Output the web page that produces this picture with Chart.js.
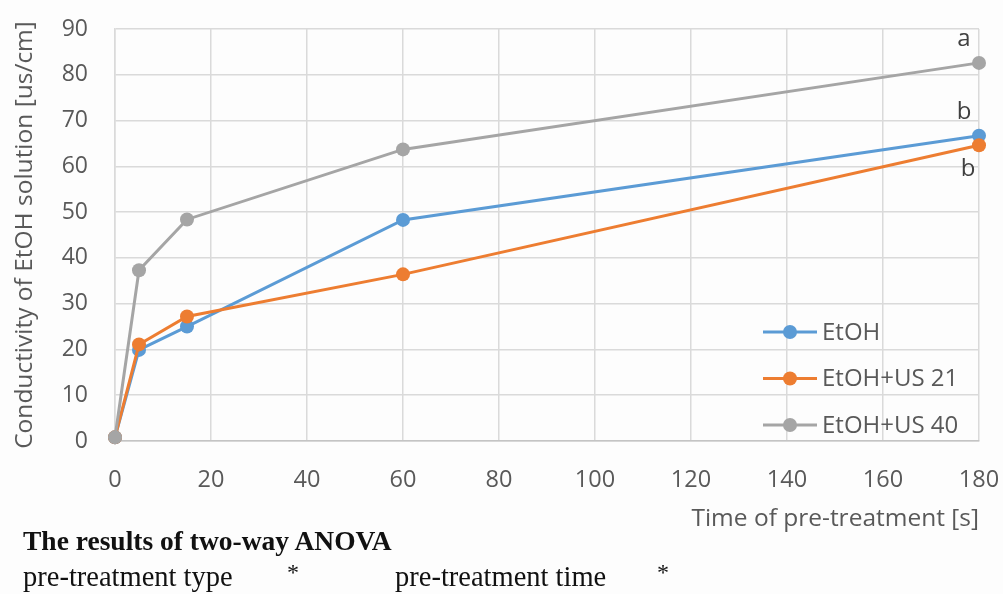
<!DOCTYPE html>
<html>
<head>
<meta charset="utf-8">
<script src="https://cdn.jsdelivr.net/npm/chart.js@4/dist/chart.umd.min.js"></script>
<style>
    html, body { margin: 0; padding: 0; background: #fdfdfd; }
    #wrap { position: relative; width: 1003px; height: 594px; }
    .anova { position: absolute; left: 23px; font-family: "Liberation Serif", serif; font-size: 28.5px; color: #111; white-space: nowrap; line-height: 1; }
</style>
</head>
<body>
<div id="wrap">
    <canvas id="chart" width="1003" height="594"></canvas>
    <div class="anova" style="top: 527px; font-size: 27.5px; font-weight: bold;">The results of two-way ANOVA</div>
    <div class="anova" style="top: 563px;">pre-treatment type</div>
    <div class="anova" style="top: 560px; left: 287px; font-size: 24px;">*</div>
    <div class="anova" style="top: 563px; left: 395px;">pre-treatment time</div>
    <div class="anova" style="top: 560px; left: 657px; font-size: 24px;">*</div>
</div>
<script>
// time of pre-treatment [s]
const times = [0, 5, 15, 60, 180];

// conductivity [us/cm]
const etoh   = [0.8, 19.9, 25.0, 48.3, 66.7];
const etoh21 = [0.8, 21.1, 27.2, 36.4, 64.6];
const etoh40 = [0.8, 37.3, 48.4, 63.7, 82.6];

const seriesNames  = ["EtOH", "EtOH+US 21", "EtOH+US 40"];
const seriesColors = ["#5b9bd5", "#ed7d31", "#a5a5a5"];

// significance letters at the last time point
const groupLetters = ["b", "b", "a"];

const xTicks = [0, 20, 40, 60, 80, 100, 120, 140, 160, 180];
const yTicks = [0, 10, 20, 30, 40, 50, 60, 70, 80, 90];

const textColor = "#595959";
const gridColor = "#dadada";

function points (values) {
    return times.map((t, i) => ({ x: t, y: values[i] }));
}

function makeDataset (i, values) {
    return {
        label           : seriesNames[i],
        data            : points(values),
        borderColor     : seriesColors[i],
        backgroundColor : seriesColors[i],
        borderWidth     : 3,
        pointRadius     : 7,
        pointHoverRadius: 7,
        pointBorderWidth: 0,
        tension         : 0,
        clip            : false,
        order           : 3 - i
    };
}

// legend drawn inside the plot, lower right
const insideLegend = {
    id: "insideLegend",
    afterDraw (chart) {
        const { ctx, chartArea } = chart;
        const x0 = chartArea.right - 216;
        ctx.save();
        ctx.font = "24px 'Open Sans'";
        ctx.textBaseline = "middle";
        chart.data.datasets.forEach((ds, i) => {
            const y = chartArea.bottom - 16 - (chart.data.datasets.length - 1 - i) * 46.5;
            ctx.strokeStyle = ds.borderColor;
            ctx.lineWidth = 3;
            ctx.beginPath();
            ctx.moveTo(x0, y);
            ctx.lineTo(x0 + 54, y);
            ctx.stroke();
            ctx.fillStyle = ds.borderColor;
            ctx.beginPath();
            ctx.arc(x0 + 27, y, 7, 0, Math.PI * 2);
            ctx.fill();
            ctx.fillStyle = textColor;
            ctx.fillText(ds.label, x0 + 59, y + 1);
        });
        ctx.restore();
    }
};

// significance letters next to the last points
const letterLabels = {
    id: "letterLabels",
    afterDatasetsDraw (chart) {
        const { ctx } = chart;
        const xs = chart.scales.x;
        const ys = chart.scales.y;
        const last = times.length - 1;
        const lastValues = [etoh[last], etoh21[last], etoh40[last]];
        const below = lastValues.map((v, i) => lastValues.some((w, j) => j !== i && w > v && w - v < 8));
        ctx.save();
        ctx.font = "24px 'Open Sans'";
        ctx.fillStyle = "#404040";
        ctx.textAlign = "center";
        ctx.textBaseline = "middle";
        groupLetters.forEach((letter, i) => {
            const px = xs.getPixelForValue(times[last]);
            const py = ys.getPixelForValue(lastValues[i]);
            if (below[i]) {
                ctx.fillText(letter, px - 11, py + 24);
            } else {
                ctx.fillText(letter, px - 15, py - 24);
            }
        });
        ctx.restore();
    }
};

const chartEl = document.getElementById("chart");

new Chart(chartEl.getContext("2d"), {
    type: "line",
    data: {
        datasets: [
            makeDataset(0, etoh),
            makeDataset(1, etoh21),
            makeDataset(2, etoh40)
        ]
    },
    options: {
        responsive: false,
        animation: false,
        layout: {
            padding: { top: 29, right: 24, bottom: 60, left: 0 }
        },
        plugins: {
            legend : { display: false },
            tooltip: { enabled: false }
        },
        scales: {
            x: {
                type: "linear",
                min : 0,
                max : 180,
                afterBuildTicks (scale) {
                    scale.ticks = xTicks.map(v => ({ value: v }));
                },
                afterFit (scale) {
                    scale.height = 594 - 441 - 60;
                    scale.paddingLeft = 0;
                    scale.paddingRight = 0;
                },
                grid  : { color: gridColor, lineWidth: 1.5, drawTicks: false },
                border: { color: "#c4c4c4", width: 1.5 },
                ticks : {
                    color  : textColor,
                    font   : { family: "Open Sans", size: 23.5 },
                    padding: 25,
                    maxRotation: 0
                },
                title: {
                    display: true,
                    text   : "Time of pre-treatment [s]",
                    align  : "end",
                    color  : textColor,
                    font   : { family: "Open Sans", size: 24.5 },
                    padding: { top: 0, bottom: 0 }
                }
            },
            y: {
                min: 0,
                max: 90,
                afterBuildTicks (scale) {
                    scale.ticks = yTicks.map(v => ({ value: v }));
                },
                afterFit (scale) {
                    scale.width = 115;
                    scale.paddingTop = 0;
                    scale.paddingBottom = 0;
                },
                grid  : { color: gridColor, lineWidth: 1.5, drawTicks: false },
                border: { color: gridColor, width: 1.5 },
                ticks : {
                    color  : textColor,
                    font   : { family: "Open Sans", size: 23 },
                    padding: 27
                },
                title: {
                    display: true,
                    text   : "Conductivity of EtOH solution [us/cm]",
                    color  : textColor,
                    font   : { family: "Open Sans", size: 24.5 },
                    padding: { top: 10, bottom: 0 }
                }
            }
        }
    },
    plugins: [letterLabels, insideLegend]
});
</script>
</body>
</html>
